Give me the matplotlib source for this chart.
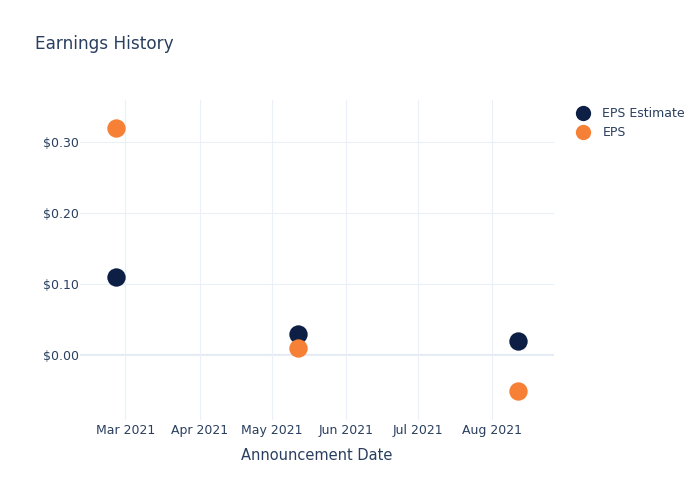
import matplotlib
matplotlib.use("Agg")
import matplotlib.pyplot as plt
import matplotlib.dates as mdates
from matplotlib.lines import Line2D
import datetime as dt

dates = ["2021-02-25", "2021-05-12", "2021-08-12"]
eps_estimate = [0.11, 0.03, 0.02]
eps_actual = [0.32, 0.01, -0.05]
series_names = ["EPS Estimate", "EPS"]
colors = ["#0d1f45", "#f68035"]
tick_dates = ["2021-03-01", "2021-04-01", "2021-05-01", "2021-06-01", "2021-07-01", "2021-08-01"]
yticks = [0.0, 0.1, 0.2, 0.3]

TXT = "#2a3f5f"
GRID = "#ebf0f8"

x = [dt.datetime.strptime(d, "%Y-%m-%d") for d in dates]
xt = [dt.datetime.strptime(d, "%Y-%m-%d") for d in tick_dates]

fig = plt.figure(figsize=(7, 5), dpi=100)
ax = fig.add_axes([80/700, 80/500, (554-80)/700, (420-100)/500])

ax.scatter(x, eps_estimate, s=175, color=colors[0], zorder=3, linewidths=0)
ax.scatter(x, eps_actual, s=175, color=colors[1], zorder=3, linewidths=0)

ax.set_xlim(dt.datetime(2021, 2, 10), dt.datetime(2021, 8, 27))
ax.set_ylim(-0.0915, 0.359)
ax.set_xticks(xt)
ax.xaxis.set_major_formatter(mdates.DateFormatter("%b %Y"))
ax.set_yticks(yticks)
ax.set_yticklabels([f"${v:.2f}" for v in yticks])

for s in ax.spines.values():
    s.set_visible(False)
ax.grid(True, color=GRID, linewidth=0.8, zorder=0)
ax.axhline(0, color="#e2e8f2", linewidth=1.5, zorder=1)
ax.tick_params(axis="both", length=0, colors=TXT, labelsize=9)
ax.tick_params(axis="x", pad=3)
ax.tick_params(axis="y", pad=1)

ax.set_xlabel("Announcement Date", color=TXT, fontsize=10.5, labelpad=8)
fig.text(35/700, 1 - 44/500, "Earnings History", color=TXT, fontsize=12.2, va="center", ha="left")

handles = [Line2D([0], [0], marker="o", linestyle="", markersize=11, markerfacecolor=c, markeredgewidth=0)
           for c in colors]
leg = fig.legend(handles, series_names, loc="upper left", bbox_to_anchor=(575/700, 1 - 107/500),
                 frameon=False, fontsize=9, handletextpad=0.9, labelspacing=0.5, handlelength=1.3,
                 borderaxespad=0, borderpad=0)
for t in leg.get_texts():
    t.set_color(TXT)

fig.savefig("out.png", dpi=100)
